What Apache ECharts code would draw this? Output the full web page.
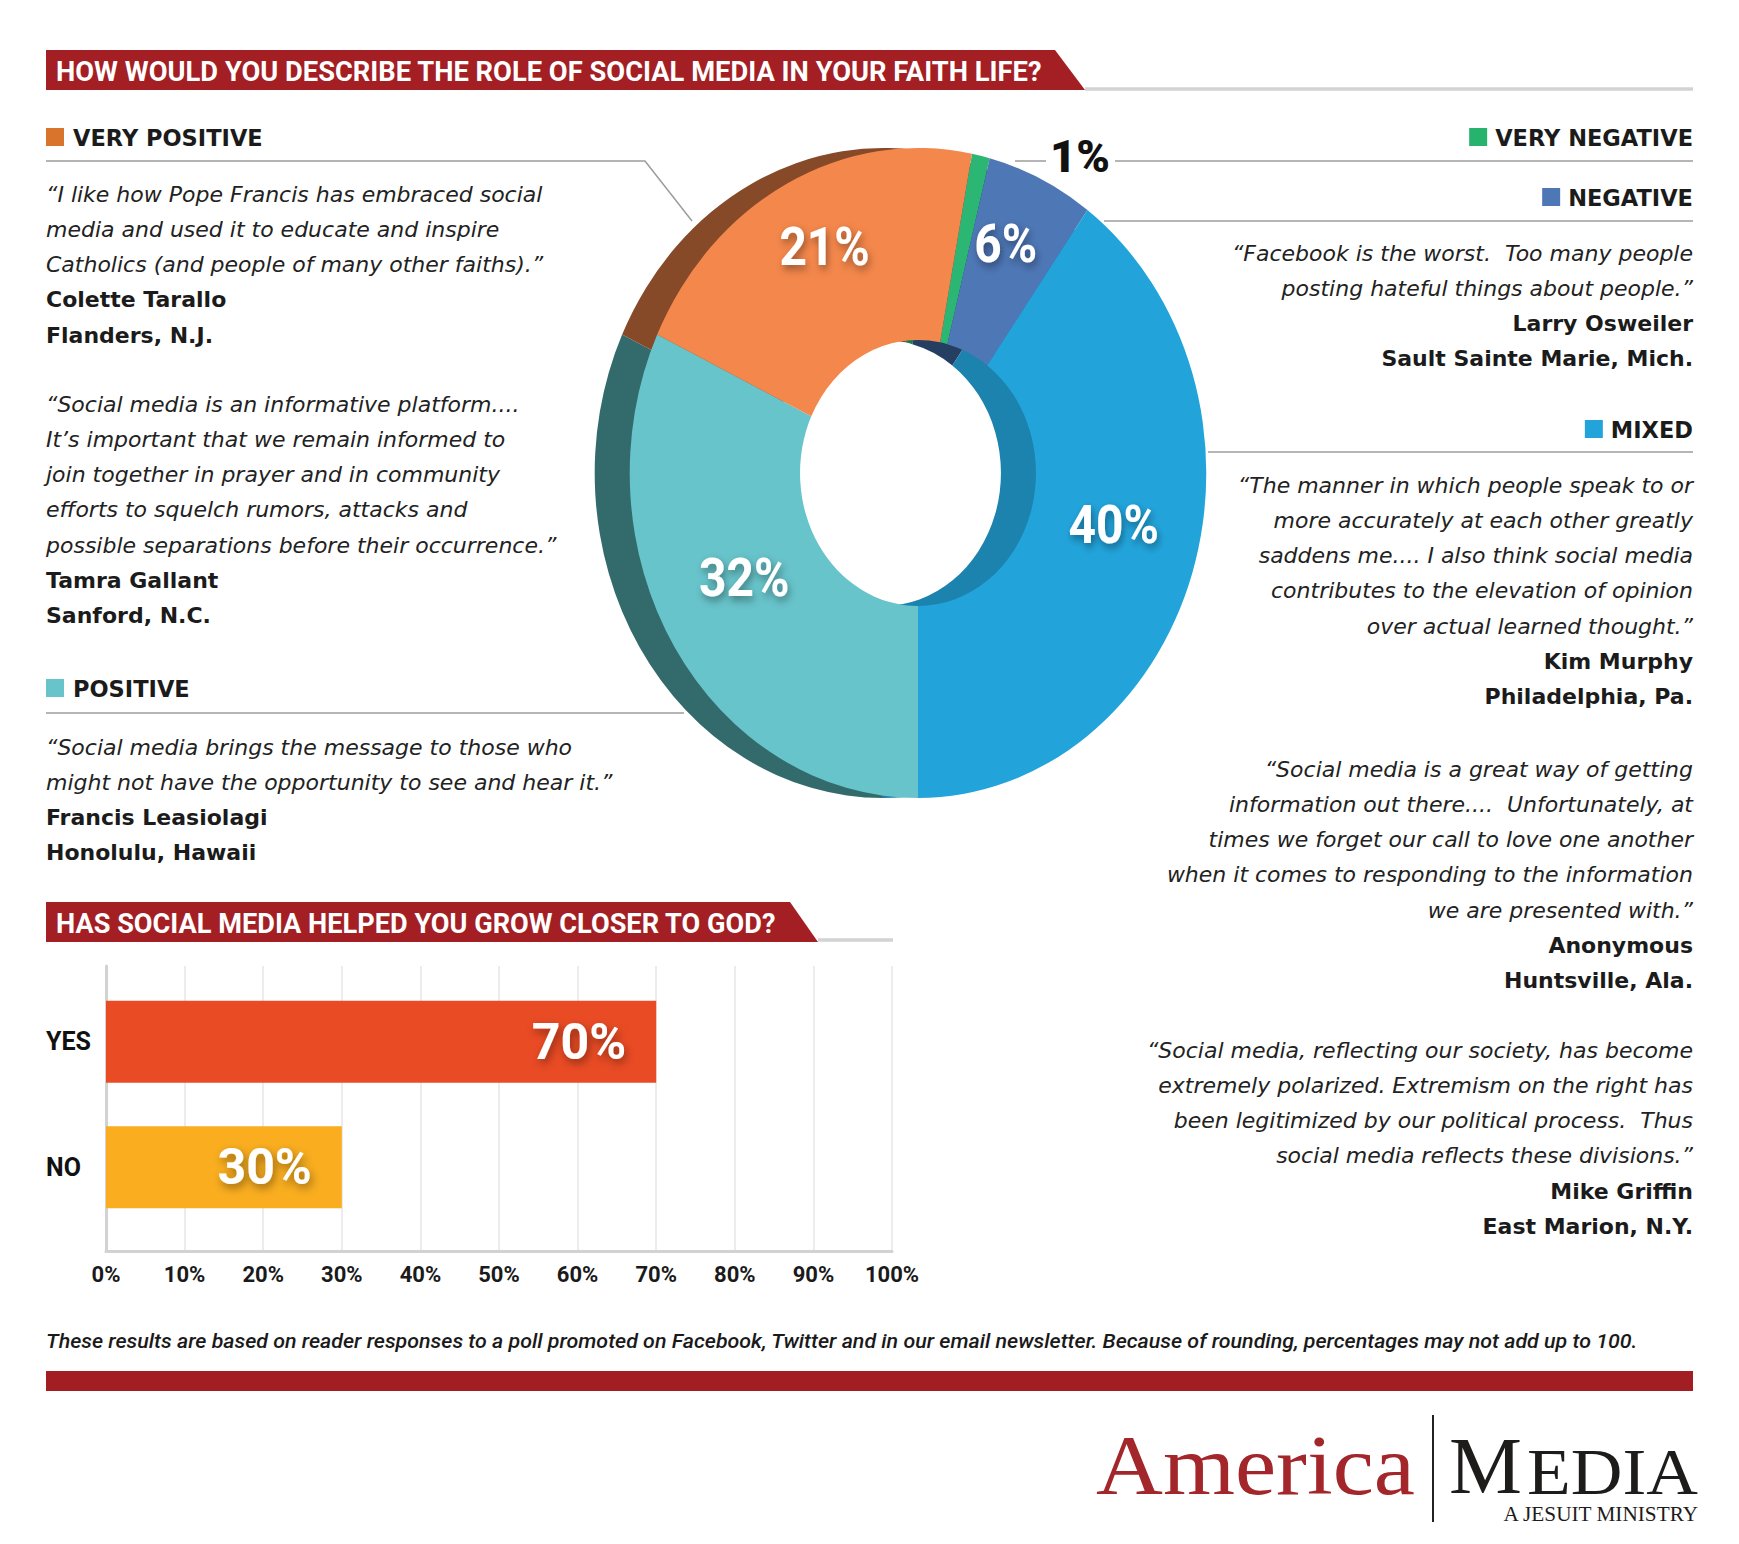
<!DOCTYPE html>
<html><head><meta charset="utf-8">
<script src="https://cdn.jsdelivr.net/npm/echarts@6/dist/echarts.min.js"></script>
<style>
html,body{margin:0;padding:0;background:#fff;overflow:hidden;}
#main{position:absolute;left:0;top:0;width:1739px;height:1544px;}
#pie{position:absolute;left:518px;top:93px;width:800px;height:760px;transform:scaleX(0.887);transform-origin:50% 50%;}
</style></head><body>
<div id="main"></div><div id="pie"></div>
<script>
// ---------- DATA ----------
const pieCategories = ['VERY NEGATIVE', 'NEGATIVE', 'MIXED', 'POSITIVE', 'VERY POSITIVE'];
const pieValues = [1, 6, 40, 32, 21];
const pieColors = ['#2BB673', '#4E77B6', '#22A4DB', '#67C4CA', '#F4874B'];
const pieSideColors = ['#1B7A4C', '#253F63', '#1C83AF', '#336B6C', '#864A29'];
const legendColors = ['#27B36E', '#4E77B6', '#22A4DB', '#67C4CA', '#D8742C'];

const barCategories = ['YES', 'NO'];
const barValues = [70, 30];
const barColors = ['#E94B24', '#F9AD1F'];
const xAxisMin = 0, xAxisMax = 100, xAxisInterval = 10;

const title1 = 'HOW WOULD YOU DESCRIBE THE ROLE OF SOCIAL MEDIA IN YOUR FAITH LIFE?';
const title2 = 'HAS SOCIAL MEDIA HELPED YOU GROW CLOSER TO GOD?';
const footnote = 'These results are based on reader responses to a poll promoted on Facebook, Twitter and in our email newsletter. Because of rounding, percentages may not add up to 100.';

const leftQuotes = [
  { y0: 194, italic: ['“I like how Pope Francis has embraced social', 'media and used it to educate and inspire', 'Catholics (and people of many other faiths).”'], bold: ['Colette Tarallo', 'Flanders, N.J.'] },
  { y0: 404, italic: ['“Social media is an informative platform....', 'It’s important that we remain informed to', 'join together in prayer and in community', 'efforts to squelch rumors, attacks and', 'possible separations before their occurrence.”'], bold: ['Tamra Gallant', 'Sanford, N.C.'] },
  { y0: 747, italic: ['“Social media brings the message to those who', 'might not have the opportunity to see and hear it.”'], bold: ['Francis Leasiolagi', 'Honolulu, Hawaii'] }
];
const rightQuotes = [
  { y0: 253, italic: ['“Facebook is the worst.  Too many people', 'posting hateful things about people.”'], bold: ['Larry Osweiler', 'Sault Sainte Marie, Mich.'] },
  { y0: 485, italic: ['“The manner in which people speak to or', 'more accurately at each other greatly', 'saddens me.... I also think social media', 'contributes to the elevation of opinion', 'over actual learned thought.”'], bold: ['Kim Murphy', 'Philadelphia, Pa.'] },
  { y0: 769, italic: ['“Social media is a great way of getting', 'information out there....  Unfortunately, at', 'times we forget our call to love one another', 'when it comes to responding to the information', 'we are presented with.”'], bold: ['Anonymous', 'Huntsville, Ala.'] },
  { y0: 1050, italic: ['“Social media, reflecting our society, has become', 'extremely polarized. Extremism on the right has', 'been legitimized by our political process.  Thus', 'social media reflects these divisions.”'], bold: ['Mike Griffin', 'East Marion, N.Y.'] }
];

// ---------- HELPERS ----------
const RED = '#A31F24';
const INK = '#1b1b1b';
const LINE = '#9c9c9c';
const ITALIC_FONT = "italic 22px 'DejaVu Sans', 'Open Sans', sans-serif";
const BOLD_FONT = "bold 22px 'DejaVu Sans', 'Open Sans', sans-serif";
const HEAD_FONT = "bold 22.5px 'DejaVu Sans', 'Open Sans', sans-serif";
const SERIF = "'Liberation Serif', 'DejaVu Serif', serif";
const LINE_STEP = 35.3;

const mctx = document.createElement('canvas').getContext('2d');
function measure(s, font) { mctx.font = font; return mctx.measureText(s).width; }
function text(s, x, y, font, align, fill, extra) {
  return Object.assign({ type: 'text', x: x, y: y, silent: true,
    style: { text: s, font: font, fill: fill || INK, textAlign: align || 'left', textVerticalAlign: 'middle' } }, extra || {});
}
function fitText(s, x, y, font, target, align, fill) {
  const w = measure(s, font);
  return text(s, x, y, font, align, fill, { scaleX: target / w });
}
function line(points, color, width) {
  return { type: 'polyline', silent: true, shape: { points: points }, style: { stroke: color || LINE, lineWidth: width || 1.5, fill: null } };
}

const g = [];
// Title bars
g.push({ type: 'polygon', silent: true, shape: { points: [[46, 50], [1055, 50], [1085, 90], [46, 90]] }, style: { fill: RED } });
g.push(line([[1085, 89], [1693, 89]], '#d3d3d3', 3.5));
g.push(fitText(title1, 56, 71, "bold 28px Roboto, 'DejaVu Sans', sans-serif", 987, 'left', '#ffffff'));

g.push({ type: 'polygon', silent: true, shape: { points: [[46, 902], [790, 902], [818, 942], [46, 942]] }, style: { fill: RED } });
g.push(line([[818, 940], [893, 940]], '#d3d3d3', 3.5));
g.push(fitText(title2, 56, 923, "bold 28px Roboto, 'DejaVu Sans', sans-serif", 720, 'left', '#ffffff'));

// Legend headings
function headLeft(idx, y) {
  g.push({ type: 'rect', silent: true, shape: { x: 46, y: y - 9, width: 18, height: 18 }, style: { fill: legendColors[idx] } });
  g.push(text(pieCategories[idx], 73, y + 1, HEAD_FONT, 'left', INK));
}
function headRight(idx, y) {
  const w = measure(pieCategories[idx], HEAD_FONT);
  g.push({ type: 'rect', silent: true, shape: { x: 1693 - w - 26, y: y - 9, width: 18, height: 18 }, style: { fill: legendColors[idx] } });
  g.push(text(pieCategories[idx], 1693, y + 1, HEAD_FONT, 'right', INK));
}
headLeft(4, 137);
headLeft(3, 688);
headRight(0, 137);
headRight(1, 197);
headRight(2, 429);

// Leader lines
g.push(line([[46, 161], [645, 161], [692, 221]]));
g.push(line([[46, 713], [684, 713]]));
g.push(line([[1015, 161], [1046, 161]]));
g.push(line([[1115, 161], [1693, 161]]));
g.push(line([[1104, 221], [1693, 221]]));
g.push(line([[1208, 452], [1693, 452]]));
// 1% label (very negative slice)
g.push(fitText(pieValues[0] + '%', 1080, 157, "900 44px Roboto, sans-serif", 60, 'center', '#111'));

// Quotes
function block(q, x, align) {
  let y = q.y0;
  q.italic.forEach(s => { g.push(text(s, x, y, ITALIC_FONT, align, '#222')); y += LINE_STEP; });
  q.bold.forEach(s => { g.push(text(s, x, y, BOLD_FONT, align, INK)); y += LINE_STEP; });
}
leftQuotes.forEach(q => block(q, 46, 'left'));
rightQuotes.forEach(q => block(q, 1693, 'right'));

// Footnote + footer bar
g.push(fitText(footnote, 46, 1341, "italic 500 20px Roboto, sans-serif", 1593, 'left', '#1a1a1a'));
g.push({ type: 'rect', silent: true, shape: { x: 46, y: 1371, width: 1647, height: 20 }, style: { fill: '#A21E23' } });

// Logo
g.push(fitText('America', 1096, 1494 - 0.34 * 85, "85px " + SERIF, 319, 'left', '#A2262A'));
g.push(line([[1433, 1415], [1433, 1522]], '#222', 2));
g.push(fitText('M', 1449, 1494 - 0.34 * 80, "80px " + SERIF, 73, 'left', '#1e1b1b'));
g.push(fitText('EDIA', 1527, 1494 - 0.34 * 65, "65px " + SERIF, 171, 'left', '#1e1b1b'));
g.push(fitText('A JESUIT MINISTRY', 1698, 1514, "20px " + SERIF, 196, 'right', '#1e1b1b'));

// ---------- MAIN CHART (bar) ----------
const main = echarts.init(document.getElementById('main'), null, { renderer: 'svg' });
main.setOption({
  animation: false,
  backgroundColor: 'transparent',
  grid: [
    { left: 106, right: 847, top: 966, bottom: 293, containLabel: false },
    { left: 106, right: 847, top: 979, bottom: 314, containLabel: false }
  ],
  xAxis: [
    { gridIndex: 0, type: 'value', min: xAxisMin, max: xAxisMax, interval: xAxisInterval,
      axisLabel: { formatter: '{value}%', fontFamily: 'Roboto', fontWeight: 'bold', fontSize: 22, color: '#1a1a1a', margin: 12 },
      axisLine: { show: true, lineStyle: { color: '#d2d2d2', width: 3 } },
      axisTick: { show: false },
      splitLine: { show: true, lineStyle: { color: '#e6e6e6', width: 1.5 } } },
    { gridIndex: 1, type: 'value', min: xAxisMin, max: xAxisMax, show: false }
  ],
  yAxis: [
    { gridIndex: 0, type: 'value', min: 0, max: 1,
      axisLine: { show: true, lineStyle: { color: '#d2d2d2', width: 3 } },
      axisTick: { show: false }, axisLabel: { show: false }, splitLine: { show: false } },
    { gridIndex: 1, type: 'category', data: barCategories, inverse: true,
      axisLine: { show: false }, axisTick: { show: false }, splitLine: { show: false },
      axisLabel: { align: 'left', margin: 60, fontSize: 25, fontWeight: 'bold', fontFamily: 'Roboto', color: '#111' } }
  ],
  series: [{
    type: 'bar', xAxisIndex: 1, yAxisIndex: 1, barWidth: 82, silent: true,
    data: barValues.map((v, i) => ({ value: v, itemStyle: { color: barColors[i] } })),
    label: { show: true, position: 'insideRight', distance: 30, formatter: '{c}%', color: '#fff',
      fontFamily: 'Roboto', fontWeight: 'bold', fontSize: 50,
      textShadowColor: 'rgba(0,0,0,0.4)', textShadowBlur: 8, textShadowOffsetX: 2, textShadowOffsetY: 4 }
  }],
  graphic: g
});

// ---------- PIE (pseudo-3D donut) ----------
const pie = echarts.init(document.getElementById('pie'), null, { renderer: 'svg' });
const startAngle = 79.2;
const labelShadow = { textShadowColor: 'rgba(0,0,0,0.4)', textShadowBlur: 8, textShadowOffsetX: 2, textShadowOffsetY: 4 };
pie.setOption({
  animation: false,
  backgroundColor: 'transparent',
  series: [
    { type: 'pie', z: 1, center: [360.5, 380], radius: [133, 325], startAngle: startAngle, clockwise: true, silent: true,
      avoidLabelOverlap: false, label: { show: false }, labelLine: { show: false },
      itemStyle: { borderWidth: 0 },
      data: pieCategories.map((n, i) => ({ name: n, value: pieValues[i], itemStyle: { color: pieSideColors[i] } })) },
    { type: 'pie', z: 2, center: [400, 380], radius: [133, 325], startAngle: startAngle, clockwise: true, silent: true,
      avoidLabelOverlap: false, labelLine: { show: false },
      itemStyle: { borderWidth: 0 },
      label: { show: true, position: 'inside', formatter: '{v|{c}%}\n{s|}',
        rich: {
          v: Object.assign({ color: '#fff', fontFamily: 'Roboto', fontWeight: 'bold', fontSize: 54, lineHeight: 60 }, labelShadow),
          s: { fontSize: 10, height: 40, lineHeight: 40 }
        } },
      data: pieCategories.map((n, i) => ({ name: n, value: pieValues[i], itemStyle: { color: pieColors[i] },
        label: { show: pieValues[i] >= 5 } })) }
  ]
});
</script>
</body></html>
